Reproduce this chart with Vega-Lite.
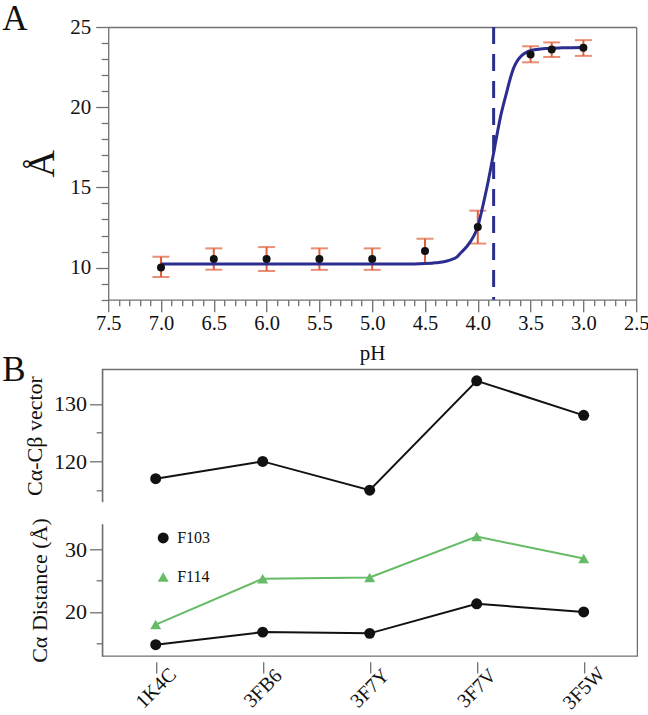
{
  "$schema": "https://vega.github.io/schema/vega-lite/v6.json",
  "padding": {"left": 1.2, "top": 2, "right": 0, "bottom": 0},
  "background": "white",
  "config": {
    "font": "Liberation Serif",
    "view": {"stroke": null},
    "axis": {"domainColor": "#707070", "domainWidth": 1.3, "tickColor": "#707070", "tickWidth": 1.3, "labelColor": "#111111", "titleColor": "#111111", "titleFontWeight": "normal", "grid": false, "labelFont": "Liberation Serif", "titleFont": "Liberation Serif"},
    "style": {"guide-label": {"font": "Liberation Serif"}, "guide-title": {"font": "Liberation Serif"}},
    "title": {"font": "Liberation Serif", "fontWeight": "normal", "color": "#111111"},
    "legend": {"labelFont": "Liberation Serif", "labelColor": "#111111"}
  },
  "datasets": {
    "ph": [
      {"pH": 7.0, "val": 10.0, "lo": 9.42, "hi": 10.68},
      {"pH": 6.5, "val": 10.53, "lo": 9.87, "hi": 11.2},
      {"pH": 6.0, "val": 10.53, "lo": 9.79, "hi": 11.28},
      {"pH": 5.5, "val": 10.53, "lo": 9.86, "hi": 11.2},
      {"pH": 5.0, "val": 10.53, "lo": 9.86, "hi": 11.2},
      {"pH": 4.5, "val": 11.03, "lo": 10.25, "hi": 11.8},
      {"pH": 4.0, "val": 12.53, "lo": 11.5, "hi": 13.55},
      {"pH": 3.5, "val": 23.28, "lo": 22.8, "hi": 23.8},
      {"pH": 3.3, "val": 23.6, "lo": 23.13, "hi": 24.04},
      {"pH": 3.0, "val": 23.7, "lo": 23.2, "hi": 24.18}
    ],
    "fit": [
      {"pH": 7.0, "val": 10.22},
      {"pH": 6.0, "val": 10.22},
      {"pH": 5.0, "val": 10.22},
      {"pH": 4.6, "val": 10.23},
      {"pH": 4.5, "val": 10.25},
      {"pH": 4.4, "val": 10.3},
      {"pH": 4.3, "val": 10.4},
      {"pH": 4.25, "val": 10.5},
      {"pH": 4.2, "val": 10.65},
      {"pH": 4.16, "val": 10.93},
      {"pH": 4.1, "val": 11.35},
      {"pH": 4.04, "val": 11.95},
      {"pH": 4.0, "val": 12.55},
      {"pH": 3.975, "val": 13.2},
      {"pH": 3.94, "val": 14.2},
      {"pH": 3.91, "val": 15.1},
      {"pH": 3.88, "val": 16.1},
      {"pH": 3.85, "val": 17.15},
      {"pH": 3.815, "val": 18.4},
      {"pH": 3.785, "val": 19.4},
      {"pH": 3.75, "val": 20.35},
      {"pH": 3.72, "val": 21.1},
      {"pH": 3.69, "val": 21.85},
      {"pH": 3.66, "val": 22.45},
      {"pH": 3.62, "val": 22.95},
      {"pH": 3.58, "val": 23.25},
      {"pH": 3.54, "val": 23.42},
      {"pH": 3.5, "val": 23.52},
      {"pH": 3.44, "val": 23.6},
      {"pH": 3.35, "val": 23.66},
      {"pH": 3.2, "val": 23.7},
      {"pH": 3.0, "val": 23.72}
    ],
    "pka": [{"pKa": 3.85}],
    "vec": [
      {"code": "1K4C", "i": 1, "vec": 117},
      {"code": "3FB6", "i": 2, "vec": 120},
      {"code": "3F7Y", "i": 3, "vec": 115},
      {"code": "3F7V", "i": 4, "vec": 134},
      {"code": "3F5W", "i": 5, "vec": 128}
    ],
    "dist": [
      {"code": "1K4C", "i": 1, "series": "F103", "dist": 14.8},
      {"code": "3FB6", "i": 2, "series": "F103", "dist": 16.8},
      {"code": "3F7Y", "i": 3, "series": "F103", "dist": 16.6},
      {"code": "3F7V", "i": 4, "series": "F103", "dist": 21.3},
      {"code": "3F5W", "i": 5, "series": "F103", "dist": 20.0},
      {"code": "1K4C", "i": 1, "series": "F114", "dist": 18.0},
      {"code": "3FB6", "i": 2, "series": "F114", "dist": 25.3},
      {"code": "3F7Y", "i": 3, "series": "F114", "dist": 25.5},
      {"code": "3F7V", "i": 4, "series": "F114", "dist": 32.0},
      {"code": "3F5W", "i": 5, "series": "F114", "dist": 28.5}
    ]
  },
  "bounds": "flush",
  "spacing": 69.3,
  "vconcat": [
    {
      "width": 534,
      "height": 272.7,
      "title": {"text": "A", "anchor": "start", "frame": "group", "dx": -100, "offset": -49, "baseline": "alphabetic", "fontSize": 35},
      "layer": [
        {
          "data": {"name": "ph"},
          "mark": {"type": "rule", "color": "#e0603c", "strokeWidth": 2},
          "encoding": {
            "x": {"field": "pH", "type": "quantitative", "scale": {"domain": [2.5, 7.5], "reverse": true, "range": [6, 534], "nice": false, "zero": false},
              "axis": {"orient": "bottom", "values": [2.5, 3, 3.5, 4, 4.5, 5, 5.5, 6, 6.5, 7, 7.5], "format": ".1f",
                "tickSize": 12, "labelFont": "Liberation Serif", "labelFontSize": 20.5, "labelPadding": 2, "labelFlush": false, "labelOverlap": false,
                "title": "pH", "titleFont": "Liberation Serif", "titleFontSize": 21, "titlePadding": 8}},
            "y": {"field": "lo", "type": "quantitative", "scale": {"domain": [8, 25], "nice": false, "zero": false},
              "axis": {"orient": "left", "offset": -6, "values": [10, 15, 20, 25],
                "tickSize": 12.5, "labelFont": "Liberation Serif", "labelFontSize": 21, "labelPadding": 5, "labelOverlap": false,
                "title": "Å", "titleFont": "Liberation Serif", "titleFontSize": 38, "titlePadding": 8}},
            "y2": {"field": "hi"}
          }
        },
        {
          "data": {"name": "ph"},
          "mark": {"type": "tick", "orient": "horizontal", "size": 17, "thickness": 2, "color": "#e0603c"},
          "encoding": {
            "x": {"field": "pH", "type": "quantitative", "scale": {"domain": [2.5, 7.5], "reverse": true, "range": [6, 534], "nice": false, "zero": false},
              "axis": {"orient": "top", "ticks": false, "labels": false, "title": null, "domain": true}},
            "y": {"field": "lo", "type": "quantitative", "scale": {"domain": [8, 25], "nice": false, "zero": false},
              "axis": {"orient": "right", "ticks": false, "labels": false, "title": null, "domain": true}}
          }
        },
        {
          "data": {"name": "ph"},
          "mark": {"type": "tick", "orient": "horizontal", "size": 17, "thickness": 2, "color": "#e0603c"},
          "encoding": {
            "x": {"field": "pH", "type": "quantitative", "scale": {"domain": [2.5, 7.5], "reverse": true, "range": [6, 534], "nice": false, "zero": false},
              "axis": {"orient": "bottom", "values": [2.6,2.7,2.8,2.9,3.1,3.2,3.3,3.4,3.6,3.7,3.8,3.9,4.1,4.2,4.3,4.4,4.6,4.7,4.8,4.9,5.1,5.2,5.3,5.4,5.6,5.7,5.8,5.9,6.1,6.2,6.3,6.4,6.6,6.7,6.8,6.9,7.1,7.2,7.3,7.4],
                "tickSize": 6, "labels": false, "domain": false, "title": null}},
            "y": {"field": "hi", "type": "quantitative", "scale": {"domain": [8, 25], "nice": false, "zero": false},
              "axis": {"orient": "left", "offset": -6, "values": [8,9,11,12,13,14,16,17,18,19,21,22,23,24],
                "tickSize": 7, "labels": false, "domain": false, "title": null}}
          }
        },
        {
          "data": {"name": "fit"},
          "mark": {"type": "line", "color": "#2b2e8f", "strokeWidth": 3, "interpolate": "monotone"},
          "encoding": {
            "x": {"field": "pH", "type": "quantitative", "scale": {"domain": [2.5, 7.5], "reverse": true, "range": [6, 534], "nice": false, "zero": false}, "axis": null},
            "y": {"field": "val", "type": "quantitative", "scale": {"domain": [8, 25], "nice": false, "zero": false}, "axis": null}
          }
        },
        {
          "data": {"name": "pka"},
          "mark": {"type": "rule", "color": "#2b2e8f", "strokeWidth": 3, "strokeDash": [17, 10]},
          "encoding": {
            "x": {"field": "pKa", "type": "quantitative", "scale": {"domain": [2.5, 7.5], "reverse": true, "range": [6, 534], "nice": false, "zero": false}, "axis": null}
          }
        },
        {
          "data": {"name": "ph"},
          "mark": {"type": "point", "filled": true, "color": "#111111", "size": 64, "opacity": 1},
          "encoding": {
            "x": {"field": "pH", "type": "quantitative", "scale": {"domain": [2.5, 7.5], "reverse": true, "range": [6, 534], "nice": false, "zero": false}, "axis": null},
            "y": {"field": "val", "type": "quantitative", "scale": {"domain": [8, 25], "nice": false, "zero": false}, "axis": null}
          }
        }
      ],
      "resolve": {"axis": {"x": "independent", "y": "independent"}}
    },
    {
      "width": 535,
      "height": 286.7,
      "view": {"stroke": "#707070", "strokeWidth": 1.3, "strokeDash": [1488.7, 22.3, 1000]},
      "title": {"text": "B", "anchor": "start", "frame": "group", "dx": -100, "offset": -47, "baseline": "alphabetic", "fontSize": 35},
      "layer": [
        {
          "data": {"name": "vec"},
          "mark": {"type": "line", "color": "#111111", "strokeWidth": 2},
          "encoding": {
            "x": {"field": "code", "type": "nominal", "sort": null, "scale": {"type": "point", "padding": 0.5, "domain": ["1K4C", "3FB6", "3F7Y", "3F7V", "3F5W"]},
              "axis": {"orient": "bottom", "offset": 5.7, "domain": false, "tickSize": 11.3, "labelAngle": -45, "labelAlign": "center", "labelBaseline": "middle", "labelPadding": 15, "labelFont": "Liberation Serif", "labelFontSize": 20, "title": null}},
            "y": {"field": "vec", "type": "quantitative", "scale": {"domain": [113, 136], "range": [132.4, 0], "nice": false, "zero": false},
              "axis": {"orient": "left", "values": [120, 130], "tickSize": 12.7,
                "labelFont": "Liberation Serif", "labelFontSize": 22, "labelPadding": 3, "title": "Cα-Cβ vector", "titleFont": "Liberation Serif", "titleFontSize": 22, "titlePadding": 7}},
            "order": {"field": "i", "type": "quantitative"}
          }
        },
        {
          "data": {"name": "vec"},
          "mark": {"type": "circle", "color": "#111111", "size": 120, "opacity": 1},
          "encoding": {
            "x": {"field": "code", "type": "nominal", "sort": null, "scale": {"type": "point", "padding": 0.5, "domain": ["1K4C", "3FB6", "3F7Y", "3F7V", "3F5W"]}, "axis": null},
            "y": {"field": "vec", "type": "quantitative", "scale": {"domain": [113, 136], "range": [132.4, 0], "nice": false, "zero": false},
              "axis": {"orient": "left", "values": [115, 125], "tickSize": 6, "labels": false, "domain": false, "title": null}}
          }
        },
        {
          "data": {"name": "dist"},
          "mark": {"type": "line", "strokeWidth": 2},
          "encoding": {
            "x": {"field": "code", "type": "nominal", "sort": null, "scale": {"type": "point", "padding": 0.5, "domain": ["1K4C", "3FB6", "3F7Y", "3F7V", "3F5W"]}, "axis": null},
            "y": {"field": "dist", "type": "quantitative", "scale": {"domain": [13, 34], "range": [286.7, 154.7], "nice": false, "zero": false},
              "axis": {"orient": "left", "values": [20, 30], "tickSize": 12.7,
                "labelFont": "Liberation Serif", "labelFontSize": 22, "labelPadding": 3, "title": "Cα Distance (Å)", "titleFont": "Liberation Serif", "titleFontSize": 22, "titlePadding": 13}},
            "detail": {"field": "series", "type": "nominal"},
            "stroke": {"condition": {"test": "datum.series == 'F114'", "value": "#66bb66"}, "value": "#111111"},
            "order": {"field": "i", "type": "quantitative"}
          }
        },
        {
          "data": {"name": "dist"},
          "mark": {"type": "point", "filled": true, "opacity": 1, "size": 120},
          "encoding": {
            "x": {"field": "code", "type": "nominal", "sort": null, "scale": {"type": "point", "padding": 0.5, "domain": ["1K4C", "3FB6", "3F7Y", "3F7V", "3F5W"]}, "axis": null},
            "y": {"field": "dist", "type": "quantitative", "scale": {"domain": [13, 34], "range": [286.7, 154.7], "nice": false, "zero": false},
              "axis": {"orient": "left", "values": [15, 25], "tickSize": 6, "labels": false, "domain": false, "title": null}},
            "color": {"field": "series", "type": "nominal", "scale": {"domain": ["F103", "F114"], "range": ["#111111", "#66bb66"]},
              "legend": {"orient": "none", "legendX": 53, "legendY": 503, "title": null, "padding": 0, "rowPadding": 23, "symbolSize": 120, "labelFont": "Liberation Serif", "labelFontSize": 16, "labelOffset": 6, "direction": "vertical"}},
            "shape": {"field": "series", "type": "nominal", "scale": {"domain": ["F103", "F114"], "range": ["circle", "triangle-up"]},
              "legend": {"orient": "none", "legendX": 53, "legendY": 503, "title": null, "padding": 0, "rowPadding": 23, "symbolSize": 120, "labelFont": "Liberation Serif", "labelFontSize": 16, "labelOffset": 6, "direction": "vertical"}}
          }
        }
      ],
      "resolve": {"scale": {"y": "independent"}, "axis": {"x": "independent", "y": "independent"}}
    }
  ]
}
